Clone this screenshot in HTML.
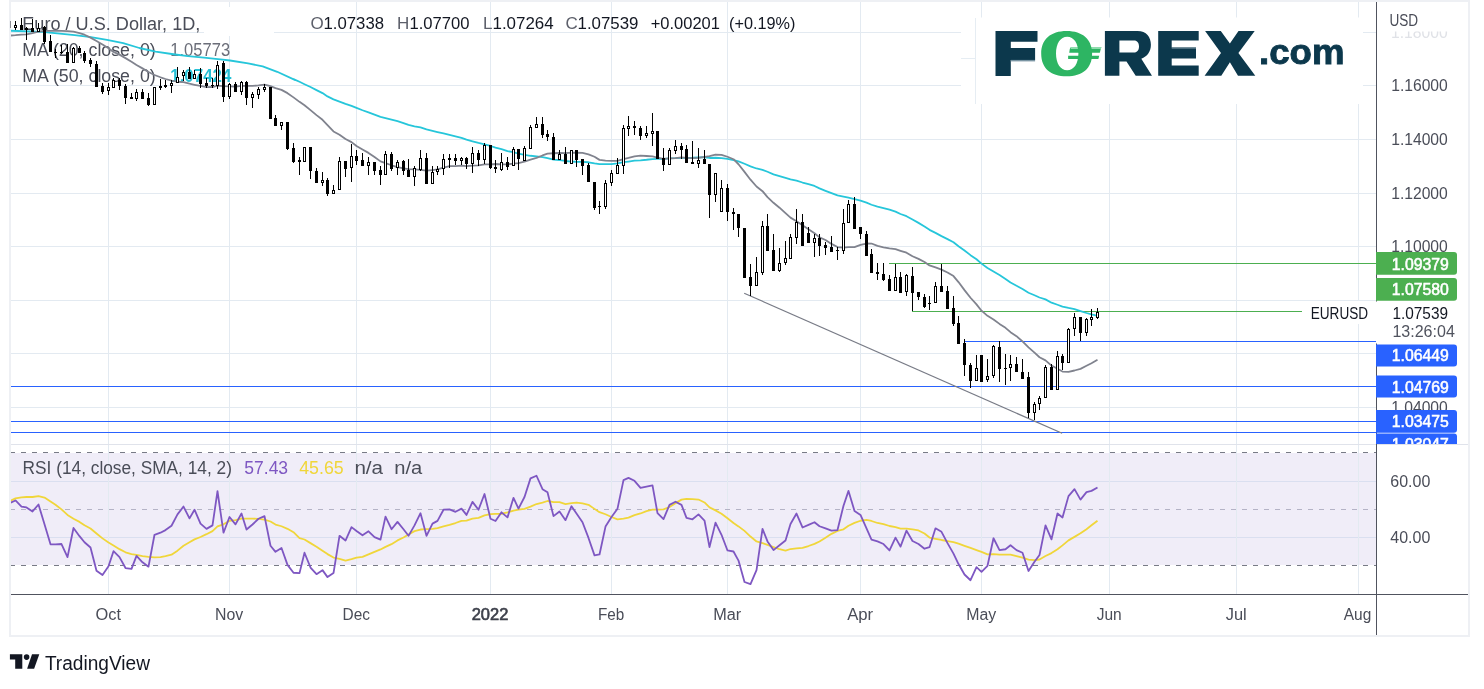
<!DOCTYPE html>
<html><head><meta charset="utf-8"><style>
html,body{margin:0;padding:0;background:#fff;}
svg{display:block;font-family:"Liberation Sans", sans-serif;will-change:transform;}
</style></head><body>
<svg width="1484" height="689" viewBox="0 0 1484 689">
<rect x="0" y="0" width="1484" height="689" fill="#ffffff"/>
<rect x="9" y="0" width="1461" height="2" fill="#eef0f4"/>
<rect x="9" y="635" width="1461" height="2" fill="#eef0f4"/>
<rect x="9" y="0" width="2" height="637" fill="#eef0f4"/>
<rect x="1468" y="0" width="2" height="637" fill="#eef0f4"/>
<rect x="11" y="453" width="1365" height="112" fill="#f0edf8"/>
<g shape-rendering="crispEdges">
<rect x="11" y="32" width="1365" height="1" fill="#e3eaf1"/>
<rect x="11" y="85" width="1365" height="1" fill="#e3eaf1"/>
<rect x="11" y="139" width="1365" height="1" fill="#e3eaf1"/>
<rect x="11" y="193" width="1365" height="1" fill="#e3eaf1"/>
<rect x="11" y="246" width="1365" height="1" fill="#e3eaf1"/>
<rect x="11" y="300" width="1365" height="1" fill="#e3eaf1"/>
<rect x="11" y="353" width="1365" height="1" fill="#e3eaf1"/>
<rect x="11" y="407" width="1365" height="1" fill="#e3eaf1"/>
<rect x="11" y="481" width="1365" height="1" fill="#dadff0"/>
<rect x="11" y="537" width="1365" height="1" fill="#dadff0"/>
<rect x="108" y="2" width="1" height="442" fill="#e3eaf1"/>
<rect x="108" y="445" width="1" height="149" fill="#e3eaf1"/>
<rect x="229" y="2" width="1" height="442" fill="#e3eaf1"/>
<rect x="229" y="445" width="1" height="149" fill="#e3eaf1"/>
<rect x="356" y="2" width="1" height="442" fill="#e3eaf1"/>
<rect x="356" y="445" width="1" height="149" fill="#e3eaf1"/>
<rect x="490" y="2" width="1" height="442" fill="#e3eaf1"/>
<rect x="490" y="445" width="1" height="149" fill="#e3eaf1"/>
<rect x="611" y="2" width="1" height="442" fill="#e3eaf1"/>
<rect x="611" y="445" width="1" height="149" fill="#e3eaf1"/>
<rect x="727" y="2" width="1" height="442" fill="#e3eaf1"/>
<rect x="727" y="445" width="1" height="149" fill="#e3eaf1"/>
<rect x="860" y="2" width="1" height="442" fill="#e3eaf1"/>
<rect x="860" y="445" width="1" height="149" fill="#e3eaf1"/>
<rect x="981" y="2" width="1" height="442" fill="#e3eaf1"/>
<rect x="981" y="445" width="1" height="149" fill="#e3eaf1"/>
<rect x="1109" y="2" width="1" height="442" fill="#e3eaf1"/>
<rect x="1109" y="445" width="1" height="149" fill="#e3eaf1"/>
<rect x="1236" y="2" width="1" height="442" fill="#e3eaf1"/>
<rect x="1236" y="445" width="1" height="149" fill="#e3eaf1"/>
<rect x="1358" y="2" width="1" height="442" fill="#e3eaf1"/>
<rect x="1358" y="445" width="1" height="149" fill="#e3eaf1"/>
</g>
<rect x="11" y="444" width="1457" height="1" fill="#e0e3eb"/>
<rect x="204" y="7" width="70" height="29" fill="#ffffff"/>
<rect x="961" y="17.5" width="402" height="86.5" fill="#ffffff"/>
<rect x="975" y="18" width="1" height="86" fill="#e6edf3"/>
<rect x="961" y="58" width="15" height="1" fill="#e6edf3"/>
<path d="M995.5,31.1 H1037.5 V41.8 H1010.8 V47.9 H1035.1 V59.9 H1010.8 V75.9 H995.5 Z" fill="#0c384c"/>
<rect x="1010.8" y="59.9" width="24.3" height="1.5" fill="#7a95a3"/>
<path d="M1070.9,47.1 H1101.3 L1099.8,52.7 H1069.2 L1069.8,49 Z" fill="#2db563"/>
<path d="M1070.9,47.1 H1101.3 L1100.9,48.9 H1070.9 Z" fill="#8fdcad"/>
<path d="M1068.1,55.8 H1099.2 L1098.4,58.9 H1068.1 Z" fill="#2db563"/>
<path fill-rule="evenodd" d="M1066.65,31.00 C1082.68,31.00 1092.10,39.38 1092.10,53.65 C1092.10,67.92 1082.68,76.30 1066.65,76.30 C1050.62,76.30 1041.20,67.92 1041.20,53.65 C1041.20,39.38 1050.62,31.00 1066.65,31.00 Z M1067.20,36.65 C1073.92,36.65 1078.40,43.35 1078.40,53.40 C1078.40,63.45 1073.92,70.15 1067.20,70.15 C1060.48,70.15 1056.00,63.45 1056.00,53.40 C1056.00,43.35 1060.48,36.65 1067.20,36.65 Z" fill="#2db563"/>
<path fill-rule="evenodd" d="M1104.9,30.9 H1137.5 C1146.5,30.9 1150.9,37 1150.9,44.7 C1150.9,51.5 1147.3,56.4 1141.3,58.8 L1152,75.7 H1135.7 L1126.5,61.6 H1119.4 V75.7 H1104.9 Z M1119.4,40.6 H1134 C1137.3,40.6 1139,43 1139,46.5 C1139,50.1 1137.3,52.5 1134,52.5 H1119.4 Z" fill="#0c384c"/>
<path d="M1158.2,30.9 H1198.7 V40.6 H1171.7 V47.6 H1196 V58.4 H1171.7 V65.4 H1198.7 V75.7 H1158.2 Z" fill="#0c384c"/>
<rect x="1171.7" y="47.6" width="24.3" height="1.2" fill="#5b7b8b"/>
<path d="M1205.1,30.9 H1220.8 L1229.9,43.5 L1238.5,30.9 H1254.7 L1238.4,53 L1255.3,75.7 H1238 L1229.9,62.3 L1221.3,75.7 H1204.6 L1221,53 Z" fill="#0c384c"/>
<text x="1259" y="64.4" font-size="34.5" font-weight="bold" fill="#0c384c" stroke="#0c384c" stroke-width="0.9" textLength="85.5" lengthAdjust="spacingAndGlyphs">.com</text>
<text x="22.3" y="29.6" font-size="17.5" fill="#4a4d58" textLength="178" lengthAdjust="spacingAndGlyphs">Euro / U.S. Dollar, 1D,</text>
<text x="310.5" y="29.4" font-size="17" fill="#5d606b">O</text>
<text x="323.5" y="29.4" font-size="17" fill="#131722" textLength="60.5" lengthAdjust="spacingAndGlyphs">1.07338</text>
<text x="396.9" y="29.4" font-size="17" fill="#5d606b">H</text>
<text x="409.5" y="29.4" font-size="17" fill="#131722" textLength="60" lengthAdjust="spacingAndGlyphs">1.07700</text>
<text x="483" y="29.4" font-size="17" fill="#5d606b">L</text>
<text x="492.5" y="29.4" font-size="17" fill="#131722" textLength="61.2" lengthAdjust="spacingAndGlyphs">1.07264</text>
<text x="565.4" y="29.4" font-size="17" fill="#5d606b">C</text>
<text x="577.5" y="29.4" font-size="17" fill="#131722" textLength="61" lengthAdjust="spacingAndGlyphs">1.07539</text>
<text x="650.7" y="29.4" font-size="17" fill="#131722" textLength="69.2" lengthAdjust="spacingAndGlyphs">+0.00201</text>
<text x="729" y="29.4" font-size="17" fill="#131722" textLength="66.3" lengthAdjust="spacingAndGlyphs">(+0.19%)</text>
<text x="22.3" y="55.7" font-size="17.5" fill="#4a4d58" textLength="133.4" lengthAdjust="spacingAndGlyphs">MA (20, close, 0)</text>
<text x="170.3" y="55.7" font-size="17.5" fill="#6b6e79" textLength="59.8" lengthAdjust="spacingAndGlyphs">1.05773</text>
<text x="22.3" y="81.7" font-size="17.5" fill="#4a4d58" textLength="133.4" lengthAdjust="spacingAndGlyphs">MA (50, close, 0)</text>
<text x="170.3" y="81.7" font-size="17.5" fill="#26c0d6" textLength="61" lengthAdjust="spacingAndGlyphs" font-weight="bold">1.07424</text>
<g shape-rendering="crispEdges">
<rect x="889" y="263" width="487" height="1" fill="#4caf50"/>
<rect x="912" y="311" width="390" height="1" fill="#4caf50"/>
<rect x="964" y="341" width="412" height="1" fill="#2962ff"/>
<rect x="11" y="386" width="1365" height="1" fill="#2962ff"/>
<rect x="11" y="421" width="1365" height="1" fill="#2962ff"/>
<rect x="11" y="432" width="1365" height="1" fill="#2962ff"/>
</g>
<line x1="744.2" y1="293.2" x2="1062.1" y2="433.3" stroke="#787b86" stroke-width="1.2"/>
<defs><clipPath id="cp"><rect x="11" y="2" width="1365" height="442"/></clipPath><clipPath id="cr"><rect x="11" y="445" width="1365" height="149"/></clipPath></defs>
<g clip-path="url(#cp)">
<polyline points="10.00,30.70 42.30,31.80 74.70,35.10 90.90,37.20 107.00,39.90 123.20,43.20 139.40,48.00 155.60,51.70 171.70,54.00 187.90,56.10 204.00,57.70 220.30,59.40 230.00,60.50 248.10,63.40 262.70,66.30 277.20,71.80 295.30,80.10 293.50,79.08 299.50,81.76 304.50,84.20 310.50,87.03 316.50,90.10 322.50,93.08 327.50,96.40 333.50,99.37 339.50,101.54 345.50,103.86 351.50,105.92 356.50,107.88 362.50,110.24 368.50,112.42 374.50,114.61 380.50,116.85 385.50,118.20 391.50,119.73 397.50,121.22 403.50,123.04 408.50,124.87 414.50,126.27 420.50,127.47 426.50,129.29 432.50,130.76 437.50,132.05 443.50,133.49 449.50,134.94 455.50,136.43 461.50,137.92 466.50,139.66 472.50,141.28 478.50,142.88 484.50,144.30 490.50,145.98 495.50,147.64 501.50,149.15 507.50,151.19 513.50,152.23 518.50,153.74 524.50,154.87 530.50,155.77 536.50,156.30 542.50,157.12 547.50,158.08 553.50,159.53 559.50,160.23 565.50,160.98 571.50,161.55 576.50,161.77 582.50,161.85 588.50,162.26 594.50,163.48 599.50,164.20 605.50,164.20 611.50,164.04 617.50,163.46 623.50,162.21 628.50,161.52 634.50,160.71 640.50,160.30 646.50,159.75 652.50,159.04 657.50,158.97 663.50,158.86 669.50,158.35 675.50,158.19 681.50,157.81 686.50,157.83 692.50,157.69 698.50,157.33 704.50,157.26 709.50,157.98 715.50,157.77 721.50,158.10 727.50,158.95 733.50,160.06 738.50,161.43 744.50,163.76 750.50,166.31 756.50,168.48 762.50,169.94 767.50,171.77 773.50,174.30 779.50,176.20 785.50,177.98 790.50,179.47 796.50,180.57 802.50,182.51 808.50,184.18 814.50,185.98 819.50,188.35 825.50,190.82 831.50,193.15 837.50,195.44 843.50,196.70 848.50,197.70 854.50,199.01 860.50,200.68 866.50,202.61 871.50,204.75 877.50,206.59 883.50,208.02 889.50,209.69 895.50,211.57 900.50,213.97 906.50,216.18 912.50,219.47 918.50,222.90 924.50,226.47 929.50,229.85 935.50,232.90 941.50,236.13 947.50,239.12 953.50,242.30 958.50,246.17 964.50,250.55 970.50,255.16 976.50,259.28 981.50,263.64 987.50,267.96 993.50,271.59 999.50,275.09 1005.50,279.01 1010.50,282.53 1016.50,285.74 1022.50,289.02 1028.50,292.71 1034.50,295.25 1039.50,297.50 1045.50,299.39 1051.50,302.67 1057.50,304.77 1062.50,306.62 1068.50,307.95 1074.50,309.13 1080.50,311.05 1086.50,313.00 1091.50,314.43 1097.50,315.82" fill="none" stroke="#26c6da" stroke-width="1.8" stroke-linejoin="round"/>
<polyline points="9.50,35.60 15.50,35.20 21.50,34.60 26.50,34.40 32.50,33.20 38.50,31.70 44.50,30.90 50.50,30.80 55.50,30.70 61.50,30.90 67.50,31.10 73.50,31.60 79.50,33.10 84.50,34.70 90.50,37.60 96.50,41.00 102.50,44.50 108.50,48.30 113.50,51.90 119.50,54.63 125.50,58.14 131.50,61.80 136.50,64.94 142.50,68.39 148.50,72.05 154.50,74.98 160.50,77.28 165.50,79.00 171.50,80.54 177.50,81.73 183.50,82.20 189.50,83.74 194.50,84.78 200.50,85.90 206.50,87.05 212.50,87.02 217.50,85.65 223.50,86.14 229.50,86.36 235.50,86.63 241.50,85.85 246.50,85.80 252.50,85.89 258.50,85.42 264.50,84.53 270.50,86.14 275.50,88.07 281.50,89.84 287.50,93.14 293.50,97.38 299.50,101.86 304.50,105.25 310.50,110.13 316.50,115.10 322.50,119.81 327.50,125.20 333.50,131.48 339.50,134.69 345.50,138.92 351.50,142.13 356.50,146.07 362.50,149.50 368.50,152.90 374.50,156.97 380.50,161.37 385.50,163.15 391.50,165.27 397.50,167.23 403.50,168.31 408.50,169.09 414.50,169.42 420.50,169.97 426.50,170.59 432.50,170.03 437.50,169.48 443.50,167.72 449.50,166.20 455.50,166.22 461.50,165.68 466.50,166.07 472.50,165.69 478.50,165.35 484.50,164.47 490.50,164.31 495.50,164.02 501.50,164.41 507.50,164.30 513.50,163.67 518.50,163.09 524.50,161.63 530.50,159.59 536.50,157.89 542.50,155.47 547.50,153.71 553.50,153.25 559.50,152.98 565.50,153.19 571.50,152.65 576.50,152.75 582.50,152.86 588.50,154.32 594.50,156.75 599.50,159.88 605.50,160.66 611.50,160.83 617.50,160.97 623.50,159.04 628.50,157.89 634.50,156.35 640.50,155.72 646.50,156.01 652.50,156.34 657.50,157.51 663.50,158.92 669.50,158.41 675.50,158.05 681.50,157.33 686.50,157.94 692.50,158.12 698.50,157.81 704.50,156.90 709.50,156.23 715.50,154.53 721.50,154.78 727.50,156.75 733.50,159.23 738.50,164.25 744.50,171.82 750.50,179.68 756.50,186.52 762.50,191.17 767.50,197.19 773.50,202.80 779.50,207.68 785.50,213.10 790.50,217.61 796.50,221.21 802.50,225.36 808.50,229.32 814.50,233.26 819.50,237.33 825.50,239.98 831.50,243.92 837.50,247.07 843.50,247.62 848.50,247.08 854.50,247.12 860.50,244.97 866.50,243.51 871.50,243.53 877.50,245.94 883.50,247.37 889.50,248.36 895.50,249.08 900.50,250.80 906.50,252.73 912.50,256.27 918.50,258.86 924.50,262.08 929.50,265.38 935.50,267.38 941.50,269.60 947.50,272.44 953.50,276.06 958.50,282.08 964.50,290.16 970.50,297.73 976.50,304.43 981.50,310.69 987.50,315.83 993.50,319.41 999.50,323.89 1005.50,327.83 1010.50,332.19 1016.50,336.18 1022.50,341.34 1028.50,347.36 1034.50,352.70 1039.50,357.25 1045.50,360.36 1051.50,365.58 1057.50,368.80 1062.50,371.53 1068.50,371.81 1074.50,370.50 1080.50,368.87 1086.50,365.80 1091.50,363.25 1097.50,359.78" fill="none" stroke="#80838e" stroke-width="1.8" stroke-linejoin="round"/>
<g shape-rendering="crispEdges">
<rect x="9" y="22" width="1" height="2" fill="#000"/>
<rect x="8" y="24" width="3" height="4" fill="#000"/>
<rect x="15" y="21" width="1" height="4" fill="#000"/>
<rect x="15" y="28" width="1" height="2" fill="#000"/>
<rect x="14" y="25" width="3" height="3" fill="#000"/>
<rect x="15" y="26" width="1" height="1" fill="#fff"/>
<rect x="21" y="18" width="1" height="7" fill="#000"/>
<rect x="20" y="25" width="3" height="5" fill="#000"/>
<rect x="26" y="27" width="1" height="1" fill="#000"/>
<rect x="26" y="30" width="1" height="10" fill="#000"/>
<rect x="25" y="28" width="3" height="2" fill="#000"/>
<rect x="32" y="19" width="1" height="9" fill="#000"/>
<rect x="31" y="28" width="3" height="4" fill="#000"/>
<rect x="38" y="23" width="1" height="5" fill="#000"/>
<rect x="37" y="28" width="3" height="4" fill="#000"/>
<rect x="38" y="29" width="1" height="2" fill="#fff"/>
<rect x="44" y="26" width="1" height="1" fill="#000"/>
<rect x="44" y="42" width="1" height="2" fill="#000"/>
<rect x="43" y="27" width="3" height="15" fill="#000"/>
<rect x="50" y="35" width="1" height="6" fill="#000"/>
<rect x="49" y="41" width="3" height="11" fill="#000"/>
<rect x="55" y="49" width="1" height="3" fill="#000"/>
<rect x="55" y="53" width="1" height="5" fill="#000"/>
<rect x="54" y="52" width="3" height="1" fill="#000"/>
<rect x="61" y="45" width="1" height="7" fill="#000"/>
<rect x="61" y="53" width="1" height="1" fill="#000"/>
<rect x="60" y="52" width="3" height="1" fill="#000"/>
<rect x="67" y="44" width="1" height="8" fill="#000"/>
<rect x="66" y="52" width="3" height="11" fill="#000"/>
<rect x="73" y="47" width="1" height="1" fill="#000"/>
<rect x="72" y="48" width="3" height="15" fill="#000"/>
<rect x="73" y="49" width="1" height="13" fill="#fff"/>
<rect x="79" y="46" width="1" height="2" fill="#000"/>
<rect x="78" y="48" width="3" height="5" fill="#000"/>
<rect x="84" y="51" width="1" height="2" fill="#000"/>
<rect x="84" y="61" width="1" height="2" fill="#000"/>
<rect x="83" y="53" width="3" height="8" fill="#000"/>
<rect x="90" y="58" width="1" height="2" fill="#000"/>
<rect x="90" y="64" width="1" height="3" fill="#000"/>
<rect x="89" y="60" width="3" height="4" fill="#000"/>
<rect x="96" y="61" width="1" height="3" fill="#000"/>
<rect x="95" y="64" width="3" height="23" fill="#000"/>
<rect x="102" y="83" width="1" height="3" fill="#000"/>
<rect x="102" y="92" width="1" height="2" fill="#000"/>
<rect x="101" y="86" width="3" height="6" fill="#000"/>
<rect x="108" y="83" width="1" height="4" fill="#000"/>
<rect x="108" y="91" width="1" height="4" fill="#000"/>
<rect x="107" y="87" width="3" height="4" fill="#000"/>
<rect x="108" y="88" width="1" height="2" fill="#fff"/>
<rect x="113" y="78" width="1" height="2" fill="#000"/>
<rect x="112" y="80" width="3" height="8" fill="#000"/>
<rect x="113" y="81" width="1" height="6" fill="#fff"/>
<rect x="119" y="78" width="1" height="2" fill="#000"/>
<rect x="119" y="86" width="1" height="4" fill="#000"/>
<rect x="118" y="80" width="3" height="6" fill="#000"/>
<rect x="125" y="84" width="1" height="2" fill="#000"/>
<rect x="125" y="98" width="1" height="6" fill="#000"/>
<rect x="124" y="86" width="3" height="12" fill="#000"/>
<rect x="131" y="93" width="1" height="4" fill="#000"/>
<rect x="130" y="97" width="3" height="2" fill="#000"/>
<rect x="136" y="89" width="1" height="3" fill="#000"/>
<rect x="136" y="99" width="1" height="2" fill="#000"/>
<rect x="135" y="92" width="3" height="7" fill="#000"/>
<rect x="136" y="93" width="1" height="5" fill="#fff"/>
<rect x="142" y="89" width="1" height="3" fill="#000"/>
<rect x="141" y="92" width="3" height="7" fill="#000"/>
<rect x="148" y="93" width="1" height="5" fill="#000"/>
<rect x="148" y="105" width="1" height="1" fill="#000"/>
<rect x="147" y="98" width="3" height="7" fill="#000"/>
<rect x="153" y="87" width="3" height="18" fill="#000"/>
<rect x="154" y="88" width="1" height="16" fill="#fff"/>
<rect x="160" y="79" width="1" height="7" fill="#000"/>
<rect x="160" y="88" width="1" height="2" fill="#000"/>
<rect x="159" y="86" width="3" height="2" fill="#000"/>
<rect x="165" y="80" width="1" height="5" fill="#000"/>
<rect x="165" y="87" width="1" height="1" fill="#000"/>
<rect x="164" y="85" width="3" height="2" fill="#000"/>
<rect x="171" y="80" width="1" height="3" fill="#000"/>
<rect x="171" y="86" width="1" height="7" fill="#000"/>
<rect x="170" y="83" width="3" height="3" fill="#000"/>
<rect x="171" y="84" width="1" height="1" fill="#fff"/>
<rect x="177" y="67" width="1" height="10" fill="#000"/>
<rect x="176" y="77" width="3" height="6" fill="#000"/>
<rect x="177" y="78" width="1" height="4" fill="#fff"/>
<rect x="183" y="70" width="1" height="2" fill="#000"/>
<rect x="183" y="76" width="1" height="5" fill="#000"/>
<rect x="182" y="72" width="3" height="4" fill="#000"/>
<rect x="183" y="73" width="1" height="2" fill="#fff"/>
<rect x="189" y="67" width="1" height="5" fill="#000"/>
<rect x="188" y="72" width="3" height="7" fill="#000"/>
<rect x="194" y="70" width="1" height="4" fill="#000"/>
<rect x="193" y="74" width="3" height="5" fill="#000"/>
<rect x="194" y="75" width="1" height="3" fill="#fff"/>
<rect x="200" y="68" width="1" height="6" fill="#000"/>
<rect x="200" y="84" width="1" height="4" fill="#000"/>
<rect x="199" y="74" width="3" height="10" fill="#000"/>
<rect x="206" y="78" width="1" height="5" fill="#000"/>
<rect x="206" y="86" width="1" height="2" fill="#000"/>
<rect x="205" y="83" width="3" height="3" fill="#000"/>
<rect x="212" y="78" width="1" height="7" fill="#000"/>
<rect x="212" y="86" width="1" height="2" fill="#000"/>
<rect x="211" y="85" width="3" height="1" fill="#000"/>
<rect x="217" y="61" width="1" height="4" fill="#000"/>
<rect x="217" y="86" width="1" height="3" fill="#000"/>
<rect x="216" y="65" width="3" height="21" fill="#000"/>
<rect x="217" y="66" width="1" height="19" fill="#fff"/>
<rect x="223" y="61" width="1" height="2" fill="#000"/>
<rect x="223" y="97" width="1" height="5" fill="#000"/>
<rect x="222" y="63" width="3" height="34" fill="#000"/>
<rect x="229" y="83" width="1" height="1" fill="#000"/>
<rect x="229" y="97" width="1" height="2" fill="#000"/>
<rect x="228" y="84" width="3" height="13" fill="#000"/>
<rect x="229" y="85" width="1" height="11" fill="#fff"/>
<rect x="235" y="82" width="1" height="2" fill="#000"/>
<rect x="234" y="84" width="3" height="8" fill="#000"/>
<rect x="241" y="81" width="1" height="1" fill="#000"/>
<rect x="241" y="92" width="1" height="3" fill="#000"/>
<rect x="240" y="82" width="3" height="10" fill="#000"/>
<rect x="241" y="83" width="1" height="8" fill="#fff"/>
<rect x="246" y="81" width="1" height="1" fill="#000"/>
<rect x="246" y="98" width="1" height="7" fill="#000"/>
<rect x="245" y="82" width="3" height="16" fill="#000"/>
<rect x="252" y="92" width="1" height="2" fill="#000"/>
<rect x="252" y="98" width="1" height="10" fill="#000"/>
<rect x="251" y="94" width="3" height="4" fill="#000"/>
<rect x="252" y="95" width="1" height="2" fill="#fff"/>
<rect x="258" y="87" width="1" height="2" fill="#000"/>
<rect x="258" y="95" width="1" height="4" fill="#000"/>
<rect x="257" y="89" width="3" height="6" fill="#000"/>
<rect x="258" y="90" width="1" height="4" fill="#fff"/>
<rect x="264" y="84" width="1" height="3" fill="#000"/>
<rect x="264" y="90" width="1" height="2" fill="#000"/>
<rect x="263" y="87" width="3" height="3" fill="#000"/>
<rect x="264" y="88" width="1" height="1" fill="#fff"/>
<rect x="269" y="87" width="3" height="32" fill="#000"/>
<rect x="275" y="115" width="1" height="3" fill="#000"/>
<rect x="274" y="118" width="3" height="8" fill="#000"/>
<rect x="281" y="126" width="1" height="4" fill="#000"/>
<rect x="280" y="122" width="3" height="4" fill="#000"/>
<rect x="281" y="123" width="1" height="2" fill="#fff"/>
<rect x="287" y="149" width="1" height="1" fill="#000"/>
<rect x="286" y="122" width="3" height="27" fill="#000"/>
<rect x="293" y="143" width="1" height="5" fill="#000"/>
<rect x="293" y="162" width="1" height="1" fill="#000"/>
<rect x="292" y="148" width="3" height="14" fill="#000"/>
<rect x="299" y="157" width="1" height="3" fill="#000"/>
<rect x="299" y="162" width="1" height="13" fill="#000"/>
<rect x="298" y="160" width="3" height="2" fill="#000"/>
<rect x="303" y="147" width="3" height="15" fill="#000"/>
<rect x="304" y="148" width="1" height="13" fill="#fff"/>
<rect x="310" y="171" width="1" height="8" fill="#000"/>
<rect x="309" y="147" width="3" height="24" fill="#000"/>
<rect x="316" y="168" width="1" height="3" fill="#000"/>
<rect x="315" y="171" width="3" height="12" fill="#000"/>
<rect x="322" y="172" width="1" height="8" fill="#000"/>
<rect x="322" y="183" width="1" height="3" fill="#000"/>
<rect x="321" y="180" width="3" height="3" fill="#000"/>
<rect x="322" y="181" width="1" height="1" fill="#fff"/>
<rect x="327" y="178" width="1" height="2" fill="#000"/>
<rect x="327" y="194" width="1" height="2" fill="#000"/>
<rect x="326" y="180" width="3" height="14" fill="#000"/>
<rect x="333" y="185" width="1" height="5" fill="#000"/>
<rect x="332" y="190" width="3" height="4" fill="#000"/>
<rect x="333" y="191" width="1" height="2" fill="#fff"/>
<rect x="339" y="157" width="1" height="4" fill="#000"/>
<rect x="338" y="161" width="3" height="29" fill="#000"/>
<rect x="339" y="162" width="1" height="27" fill="#fff"/>
<rect x="345" y="169" width="1" height="8" fill="#000"/>
<rect x="344" y="161" width="3" height="8" fill="#000"/>
<rect x="351" y="144" width="1" height="12" fill="#000"/>
<rect x="351" y="168" width="1" height="14" fill="#000"/>
<rect x="350" y="156" width="3" height="12" fill="#000"/>
<rect x="351" y="157" width="1" height="10" fill="#fff"/>
<rect x="356" y="150" width="1" height="6" fill="#000"/>
<rect x="356" y="161" width="1" height="4" fill="#000"/>
<rect x="355" y="156" width="3" height="5" fill="#000"/>
<rect x="362" y="153" width="1" height="7" fill="#000"/>
<rect x="361" y="160" width="3" height="6" fill="#000"/>
<rect x="368" y="157" width="1" height="5" fill="#000"/>
<rect x="368" y="166" width="1" height="9" fill="#000"/>
<rect x="367" y="162" width="3" height="4" fill="#000"/>
<rect x="368" y="163" width="1" height="2" fill="#fff"/>
<rect x="374" y="171" width="1" height="4" fill="#000"/>
<rect x="373" y="162" width="3" height="9" fill="#000"/>
<rect x="380" y="166" width="1" height="4" fill="#000"/>
<rect x="380" y="175" width="1" height="10" fill="#000"/>
<rect x="379" y="170" width="3" height="5" fill="#000"/>
<rect x="385" y="151" width="1" height="3" fill="#000"/>
<rect x="384" y="154" width="3" height="21" fill="#000"/>
<rect x="385" y="155" width="1" height="19" fill="#fff"/>
<rect x="391" y="152" width="1" height="2" fill="#000"/>
<rect x="391" y="169" width="1" height="2" fill="#000"/>
<rect x="390" y="154" width="3" height="15" fill="#000"/>
<rect x="397" y="160" width="1" height="2" fill="#000"/>
<rect x="397" y="168" width="1" height="7" fill="#000"/>
<rect x="396" y="162" width="3" height="6" fill="#000"/>
<rect x="397" y="163" width="1" height="4" fill="#fff"/>
<rect x="403" y="160" width="1" height="1" fill="#000"/>
<rect x="403" y="171" width="1" height="4" fill="#000"/>
<rect x="402" y="161" width="3" height="10" fill="#000"/>
<rect x="408" y="159" width="1" height="11" fill="#000"/>
<rect x="407" y="170" width="3" height="7" fill="#000"/>
<rect x="414" y="166" width="1" height="2" fill="#000"/>
<rect x="414" y="177" width="1" height="9" fill="#000"/>
<rect x="413" y="168" width="3" height="9" fill="#000"/>
<rect x="414" y="169" width="1" height="7" fill="#fff"/>
<rect x="420" y="150" width="1" height="8" fill="#000"/>
<rect x="420" y="170" width="1" height="1" fill="#000"/>
<rect x="419" y="158" width="3" height="12" fill="#000"/>
<rect x="420" y="159" width="1" height="10" fill="#fff"/>
<rect x="426" y="153" width="1" height="5" fill="#000"/>
<rect x="425" y="158" width="3" height="26" fill="#000"/>
<rect x="432" y="166" width="1" height="6" fill="#000"/>
<rect x="431" y="172" width="3" height="12" fill="#000"/>
<rect x="432" y="173" width="1" height="10" fill="#fff"/>
<rect x="437" y="166" width="1" height="3" fill="#000"/>
<rect x="437" y="172" width="1" height="3" fill="#000"/>
<rect x="436" y="169" width="3" height="3" fill="#000"/>
<rect x="437" y="170" width="1" height="1" fill="#fff"/>
<rect x="443" y="154" width="1" height="5" fill="#000"/>
<rect x="443" y="169" width="1" height="6" fill="#000"/>
<rect x="442" y="159" width="3" height="10" fill="#000"/>
<rect x="443" y="160" width="1" height="8" fill="#fff"/>
<rect x="449" y="154" width="1" height="4" fill="#000"/>
<rect x="449" y="160" width="1" height="8" fill="#000"/>
<rect x="448" y="158" width="3" height="2" fill="#000"/>
<rect x="455" y="154" width="1" height="4" fill="#000"/>
<rect x="455" y="161" width="1" height="4" fill="#000"/>
<rect x="454" y="158" width="3" height="3" fill="#000"/>
<rect x="461" y="157" width="1" height="1" fill="#000"/>
<rect x="461" y="161" width="1" height="4" fill="#000"/>
<rect x="460" y="158" width="3" height="3" fill="#000"/>
<rect x="461" y="159" width="1" height="1" fill="#fff"/>
<rect x="466" y="157" width="1" height="1" fill="#000"/>
<rect x="466" y="164" width="1" height="5" fill="#000"/>
<rect x="465" y="158" width="3" height="6" fill="#000"/>
<rect x="472" y="147" width="1" height="6" fill="#000"/>
<rect x="472" y="164" width="1" height="9" fill="#000"/>
<rect x="471" y="153" width="3" height="11" fill="#000"/>
<rect x="472" y="154" width="1" height="9" fill="#fff"/>
<rect x="478" y="150" width="1" height="3" fill="#000"/>
<rect x="478" y="160" width="1" height="6" fill="#000"/>
<rect x="477" y="153" width="3" height="7" fill="#000"/>
<rect x="484" y="143" width="1" height="2" fill="#000"/>
<rect x="484" y="160" width="1" height="4" fill="#000"/>
<rect x="483" y="145" width="3" height="15" fill="#000"/>
<rect x="484" y="146" width="1" height="13" fill="#fff"/>
<rect x="490" y="168" width="1" height="1" fill="#000"/>
<rect x="489" y="145" width="3" height="23" fill="#000"/>
<rect x="495" y="160" width="1" height="7" fill="#000"/>
<rect x="495" y="169" width="1" height="4" fill="#000"/>
<rect x="494" y="167" width="3" height="2" fill="#000"/>
<rect x="501" y="153" width="1" height="9" fill="#000"/>
<rect x="501" y="170" width="1" height="1" fill="#000"/>
<rect x="500" y="162" width="3" height="8" fill="#000"/>
<rect x="501" y="163" width="1" height="6" fill="#fff"/>
<rect x="507" y="157" width="1" height="5" fill="#000"/>
<rect x="507" y="167" width="1" height="3" fill="#000"/>
<rect x="506" y="162" width="3" height="5" fill="#000"/>
<rect x="513" y="147" width="1" height="2" fill="#000"/>
<rect x="512" y="149" width="3" height="17" fill="#000"/>
<rect x="513" y="150" width="1" height="15" fill="#fff"/>
<rect x="518" y="159" width="1" height="11" fill="#000"/>
<rect x="517" y="149" width="3" height="10" fill="#000"/>
<rect x="524" y="146" width="1" height="2" fill="#000"/>
<rect x="523" y="148" width="3" height="13" fill="#000"/>
<rect x="524" y="149" width="1" height="11" fill="#fff"/>
<rect x="530" y="125" width="1" height="2" fill="#000"/>
<rect x="529" y="127" width="3" height="22" fill="#000"/>
<rect x="530" y="128" width="1" height="20" fill="#fff"/>
<rect x="536" y="117" width="1" height="7" fill="#000"/>
<rect x="535" y="124" width="3" height="4" fill="#000"/>
<rect x="536" y="125" width="1" height="2" fill="#fff"/>
<rect x="542" y="117" width="1" height="7" fill="#000"/>
<rect x="542" y="135" width="1" height="3" fill="#000"/>
<rect x="541" y="124" width="3" height="11" fill="#000"/>
<rect x="547" y="130" width="1" height="4" fill="#000"/>
<rect x="547" y="137" width="1" height="4" fill="#000"/>
<rect x="546" y="134" width="3" height="3" fill="#000"/>
<rect x="553" y="133" width="1" height="4" fill="#000"/>
<rect x="552" y="137" width="3" height="23" fill="#000"/>
<rect x="559" y="150" width="1" height="4" fill="#000"/>
<rect x="558" y="154" width="3" height="6" fill="#000"/>
<rect x="559" y="155" width="1" height="4" fill="#fff"/>
<rect x="565" y="147" width="1" height="7" fill="#000"/>
<rect x="564" y="154" width="3" height="10" fill="#000"/>
<rect x="570" y="150" width="3" height="14" fill="#000"/>
<rect x="571" y="151" width="1" height="12" fill="#fff"/>
<rect x="576" y="160" width="1" height="7" fill="#000"/>
<rect x="575" y="150" width="3" height="10" fill="#000"/>
<rect x="582" y="166" width="1" height="9" fill="#000"/>
<rect x="581" y="159" width="3" height="7" fill="#000"/>
<rect x="588" y="163" width="1" height="2" fill="#000"/>
<rect x="587" y="165" width="3" height="17" fill="#000"/>
<rect x="594" y="208" width="1" height="2" fill="#000"/>
<rect x="593" y="182" width="3" height="26" fill="#000"/>
<rect x="599" y="201" width="1" height="5" fill="#000"/>
<rect x="599" y="207" width="1" height="7" fill="#000"/>
<rect x="598" y="206" width="3" height="1" fill="#000"/>
<rect x="605" y="180" width="1" height="3" fill="#000"/>
<rect x="605" y="207" width="1" height="2" fill="#000"/>
<rect x="604" y="183" width="3" height="24" fill="#000"/>
<rect x="605" y="184" width="1" height="22" fill="#fff"/>
<rect x="611" y="170" width="1" height="3" fill="#000"/>
<rect x="611" y="183" width="1" height="3" fill="#000"/>
<rect x="610" y="173" width="3" height="10" fill="#000"/>
<rect x="611" y="174" width="1" height="8" fill="#fff"/>
<rect x="617" y="158" width="1" height="7" fill="#000"/>
<rect x="616" y="165" width="3" height="9" fill="#000"/>
<rect x="617" y="166" width="1" height="7" fill="#fff"/>
<rect x="623" y="125" width="1" height="3" fill="#000"/>
<rect x="623" y="166" width="1" height="8" fill="#000"/>
<rect x="622" y="128" width="3" height="38" fill="#000"/>
<rect x="623" y="129" width="1" height="36" fill="#fff"/>
<rect x="628" y="116" width="1" height="10" fill="#000"/>
<rect x="628" y="129" width="1" height="7" fill="#000"/>
<rect x="627" y="126" width="3" height="3" fill="#000"/>
<rect x="628" y="127" width="1" height="1" fill="#fff"/>
<rect x="634" y="121" width="1" height="5" fill="#000"/>
<rect x="634" y="128" width="1" height="7" fill="#000"/>
<rect x="633" y="126" width="3" height="2" fill="#000"/>
<rect x="640" y="126" width="1" height="2" fill="#000"/>
<rect x="640" y="136" width="1" height="4" fill="#000"/>
<rect x="639" y="128" width="3" height="8" fill="#000"/>
<rect x="646" y="126" width="1" height="7" fill="#000"/>
<rect x="646" y="136" width="1" height="2" fill="#000"/>
<rect x="645" y="133" width="3" height="3" fill="#000"/>
<rect x="646" y="134" width="1" height="1" fill="#fff"/>
<rect x="652" y="113" width="1" height="18" fill="#000"/>
<rect x="652" y="134" width="1" height="12" fill="#000"/>
<rect x="651" y="131" width="3" height="3" fill="#000"/>
<rect x="652" y="132" width="1" height="1" fill="#fff"/>
<rect x="656" y="131" width="3" height="28" fill="#000"/>
<rect x="663" y="148" width="1" height="10" fill="#000"/>
<rect x="663" y="165" width="1" height="6" fill="#000"/>
<rect x="662" y="158" width="3" height="7" fill="#000"/>
<rect x="669" y="148" width="1" height="2" fill="#000"/>
<rect x="668" y="150" width="3" height="15" fill="#000"/>
<rect x="669" y="151" width="1" height="13" fill="#fff"/>
<rect x="675" y="140" width="1" height="6" fill="#000"/>
<rect x="675" y="151" width="1" height="3" fill="#000"/>
<rect x="674" y="146" width="3" height="5" fill="#000"/>
<rect x="675" y="147" width="1" height="3" fill="#fff"/>
<rect x="681" y="143" width="1" height="3" fill="#000"/>
<rect x="681" y="150" width="1" height="9" fill="#000"/>
<rect x="680" y="146" width="3" height="4" fill="#000"/>
<rect x="686" y="145" width="1" height="4" fill="#000"/>
<rect x="685" y="149" width="3" height="14" fill="#000"/>
<rect x="692" y="141" width="1" height="21" fill="#000"/>
<rect x="691" y="162" width="3" height="2" fill="#000"/>
<rect x="698" y="148" width="1" height="12" fill="#000"/>
<rect x="698" y="164" width="1" height="4" fill="#000"/>
<rect x="697" y="160" width="3" height="4" fill="#000"/>
<rect x="698" y="161" width="1" height="2" fill="#fff"/>
<rect x="704" y="150" width="1" height="9" fill="#000"/>
<rect x="703" y="159" width="3" height="5" fill="#000"/>
<rect x="709" y="195" width="1" height="23" fill="#000"/>
<rect x="708" y="164" width="3" height="31" fill="#000"/>
<rect x="715" y="195" width="1" height="7" fill="#000"/>
<rect x="714" y="173" width="3" height="22" fill="#000"/>
<rect x="715" y="174" width="1" height="20" fill="#fff"/>
<rect x="721" y="180" width="1" height="8" fill="#000"/>
<rect x="720" y="188" width="3" height="24" fill="#000"/>
<rect x="721" y="189" width="1" height="22" fill="#fff"/>
<rect x="727" y="184" width="1" height="4" fill="#000"/>
<rect x="727" y="212" width="1" height="9" fill="#000"/>
<rect x="726" y="188" width="3" height="24" fill="#000"/>
<rect x="733" y="208" width="1" height="4" fill="#000"/>
<rect x="733" y="214" width="1" height="16" fill="#000"/>
<rect x="732" y="212" width="3" height="2" fill="#000"/>
<rect x="738" y="228" width="1" height="9" fill="#000"/>
<rect x="737" y="214" width="3" height="14" fill="#000"/>
<rect x="743" y="228" width="3" height="50" fill="#000"/>
<rect x="750" y="264" width="1" height="13" fill="#000"/>
<rect x="750" y="286" width="1" height="10" fill="#000"/>
<rect x="749" y="277" width="3" height="9" fill="#000"/>
<rect x="756" y="257" width="1" height="15" fill="#000"/>
<rect x="755" y="272" width="3" height="14" fill="#000"/>
<rect x="756" y="273" width="1" height="12" fill="#fff"/>
<rect x="762" y="221" width="1" height="5" fill="#000"/>
<rect x="762" y="273" width="1" height="2" fill="#000"/>
<rect x="761" y="226" width="3" height="47" fill="#000"/>
<rect x="762" y="227" width="1" height="45" fill="#fff"/>
<rect x="767" y="214" width="1" height="12" fill="#000"/>
<rect x="766" y="226" width="3" height="25" fill="#000"/>
<rect x="773" y="234" width="1" height="16" fill="#000"/>
<rect x="772" y="250" width="3" height="21" fill="#000"/>
<rect x="779" y="248" width="1" height="15" fill="#000"/>
<rect x="779" y="271" width="1" height="1" fill="#000"/>
<rect x="778" y="263" width="3" height="8" fill="#000"/>
<rect x="779" y="264" width="1" height="6" fill="#fff"/>
<rect x="785" y="241" width="1" height="17" fill="#000"/>
<rect x="785" y="263" width="1" height="2" fill="#000"/>
<rect x="784" y="258" width="3" height="5" fill="#000"/>
<rect x="785" y="259" width="1" height="3" fill="#fff"/>
<rect x="790" y="234" width="1" height="3" fill="#000"/>
<rect x="789" y="237" width="3" height="22" fill="#000"/>
<rect x="790" y="238" width="1" height="20" fill="#fff"/>
<rect x="796" y="209" width="1" height="13" fill="#000"/>
<rect x="796" y="238" width="1" height="6" fill="#000"/>
<rect x="795" y="222" width="3" height="16" fill="#000"/>
<rect x="796" y="223" width="1" height="14" fill="#fff"/>
<rect x="802" y="214" width="1" height="8" fill="#000"/>
<rect x="801" y="222" width="3" height="24" fill="#000"/>
<rect x="808" y="227" width="1" height="6" fill="#000"/>
<rect x="807" y="233" width="3" height="10" fill="#000"/>
<rect x="814" y="234" width="1" height="4" fill="#000"/>
<rect x="814" y="243" width="1" height="14" fill="#000"/>
<rect x="813" y="238" width="3" height="5" fill="#000"/>
<rect x="814" y="239" width="1" height="3" fill="#fff"/>
<rect x="819" y="234" width="1" height="4" fill="#000"/>
<rect x="819" y="246" width="1" height="10" fill="#000"/>
<rect x="818" y="238" width="3" height="8" fill="#000"/>
<rect x="825" y="242" width="1" height="3" fill="#000"/>
<rect x="825" y="248" width="1" height="7" fill="#000"/>
<rect x="824" y="245" width="3" height="3" fill="#000"/>
<rect x="831" y="236" width="1" height="11" fill="#000"/>
<rect x="830" y="247" width="3" height="5" fill="#000"/>
<rect x="837" y="247" width="1" height="3" fill="#000"/>
<rect x="837" y="251" width="1" height="9" fill="#000"/>
<rect x="836" y="250" width="3" height="1" fill="#000"/>
<rect x="843" y="209" width="1" height="14" fill="#000"/>
<rect x="843" y="251" width="1" height="3" fill="#000"/>
<rect x="842" y="223" width="3" height="28" fill="#000"/>
<rect x="843" y="224" width="1" height="26" fill="#fff"/>
<rect x="848" y="200" width="1" height="4" fill="#000"/>
<rect x="847" y="204" width="3" height="19" fill="#000"/>
<rect x="848" y="205" width="1" height="17" fill="#fff"/>
<rect x="854" y="197" width="1" height="7" fill="#000"/>
<rect x="853" y="204" width="3" height="25" fill="#000"/>
<rect x="860" y="234" width="1" height="5" fill="#000"/>
<rect x="859" y="227" width="3" height="7" fill="#000"/>
<rect x="866" y="231" width="1" height="3" fill="#000"/>
<rect x="865" y="234" width="3" height="22" fill="#000"/>
<rect x="871" y="249" width="1" height="5" fill="#000"/>
<rect x="870" y="254" width="3" height="19" fill="#000"/>
<rect x="877" y="263" width="1" height="9" fill="#000"/>
<rect x="877" y="274" width="1" height="6" fill="#000"/>
<rect x="876" y="272" width="3" height="2" fill="#000"/>
<rect x="883" y="263" width="1" height="11" fill="#000"/>
<rect x="883" y="280" width="1" height="1" fill="#000"/>
<rect x="882" y="274" width="3" height="6" fill="#000"/>
<rect x="889" y="275" width="1" height="4" fill="#000"/>
<rect x="888" y="279" width="3" height="12" fill="#000"/>
<rect x="895" y="264" width="1" height="13" fill="#000"/>
<rect x="894" y="277" width="3" height="14" fill="#000"/>
<rect x="895" y="278" width="1" height="12" fill="#fff"/>
<rect x="900" y="272" width="1" height="5" fill="#000"/>
<rect x="899" y="277" width="3" height="16" fill="#000"/>
<rect x="906" y="274" width="1" height="1" fill="#000"/>
<rect x="906" y="292" width="1" height="4" fill="#000"/>
<rect x="905" y="275" width="3" height="17" fill="#000"/>
<rect x="906" y="276" width="1" height="15" fill="#fff"/>
<rect x="912" y="267" width="1" height="9" fill="#000"/>
<rect x="912" y="293" width="1" height="18" fill="#000"/>
<rect x="911" y="276" width="3" height="17" fill="#000"/>
<rect x="918" y="297" width="1" height="3" fill="#000"/>
<rect x="917" y="292" width="3" height="5" fill="#000"/>
<rect x="924" y="294" width="1" height="3" fill="#000"/>
<rect x="924" y="307" width="1" height="1" fill="#000"/>
<rect x="923" y="297" width="3" height="10" fill="#000"/>
<rect x="929" y="296" width="1" height="7" fill="#000"/>
<rect x="929" y="304" width="1" height="6" fill="#000"/>
<rect x="928" y="303" width="3" height="1" fill="#000"/>
<rect x="935" y="282" width="1" height="4" fill="#000"/>
<rect x="934" y="286" width="3" height="17" fill="#000"/>
<rect x="935" y="287" width="1" height="15" fill="#fff"/>
<rect x="941" y="264" width="1" height="22" fill="#000"/>
<rect x="940" y="286" width="3" height="6" fill="#000"/>
<rect x="947" y="286" width="1" height="5" fill="#000"/>
<rect x="946" y="291" width="3" height="18" fill="#000"/>
<rect x="953" y="296" width="1" height="12" fill="#000"/>
<rect x="953" y="324" width="1" height="2" fill="#000"/>
<rect x="952" y="308" width="3" height="16" fill="#000"/>
<rect x="958" y="316" width="1" height="7" fill="#000"/>
<rect x="957" y="323" width="3" height="21" fill="#000"/>
<rect x="964" y="339" width="1" height="4" fill="#000"/>
<rect x="964" y="365" width="1" height="11" fill="#000"/>
<rect x="963" y="343" width="3" height="22" fill="#000"/>
<rect x="970" y="363" width="1" height="2" fill="#000"/>
<rect x="970" y="381" width="1" height="7" fill="#000"/>
<rect x="969" y="365" width="3" height="16" fill="#000"/>
<rect x="976" y="355" width="1" height="13" fill="#000"/>
<rect x="975" y="368" width="3" height="13" fill="#000"/>
<rect x="976" y="369" width="1" height="11" fill="#fff"/>
<rect x="980" y="355" width="3" height="27" fill="#000"/>
<rect x="987" y="359" width="1" height="17" fill="#000"/>
<rect x="987" y="380" width="1" height="2" fill="#000"/>
<rect x="986" y="376" width="3" height="4" fill="#000"/>
<rect x="987" y="377" width="1" height="2" fill="#fff"/>
<rect x="993" y="345" width="1" height="1" fill="#000"/>
<rect x="993" y="376" width="1" height="2" fill="#000"/>
<rect x="992" y="346" width="3" height="30" fill="#000"/>
<rect x="993" y="347" width="1" height="28" fill="#fff"/>
<rect x="999" y="341" width="1" height="6" fill="#000"/>
<rect x="999" y="369" width="1" height="13" fill="#000"/>
<rect x="998" y="347" width="3" height="22" fill="#000"/>
<rect x="1005" y="354" width="1" height="14" fill="#000"/>
<rect x="1005" y="369" width="1" height="16" fill="#000"/>
<rect x="1004" y="368" width="3" height="1" fill="#000"/>
<rect x="1010" y="355" width="1" height="9" fill="#000"/>
<rect x="1010" y="368" width="1" height="13" fill="#000"/>
<rect x="1009" y="364" width="3" height="4" fill="#000"/>
<rect x="1010" y="365" width="1" height="2" fill="#fff"/>
<rect x="1016" y="357" width="1" height="7" fill="#000"/>
<rect x="1015" y="364" width="3" height="8" fill="#000"/>
<rect x="1022" y="359" width="1" height="13" fill="#000"/>
<rect x="1021" y="372" width="3" height="7" fill="#000"/>
<rect x="1028" y="372" width="1" height="5" fill="#000"/>
<rect x="1028" y="413" width="1" height="5" fill="#000"/>
<rect x="1027" y="377" width="3" height="36" fill="#000"/>
<rect x="1034" y="402" width="1" height="2" fill="#000"/>
<rect x="1034" y="413" width="1" height="7" fill="#000"/>
<rect x="1033" y="404" width="3" height="9" fill="#000"/>
<rect x="1034" y="405" width="1" height="7" fill="#fff"/>
<rect x="1039" y="396" width="1" height="2" fill="#000"/>
<rect x="1039" y="404" width="1" height="6" fill="#000"/>
<rect x="1038" y="398" width="3" height="6" fill="#000"/>
<rect x="1039" y="399" width="1" height="4" fill="#fff"/>
<rect x="1045" y="365" width="1" height="2" fill="#000"/>
<rect x="1044" y="367" width="3" height="31" fill="#000"/>
<rect x="1045" y="368" width="1" height="29" fill="#fff"/>
<rect x="1051" y="364" width="1" height="3" fill="#000"/>
<rect x="1050" y="367" width="3" height="23" fill="#000"/>
<rect x="1057" y="351" width="1" height="5" fill="#000"/>
<rect x="1056" y="356" width="3" height="34" fill="#000"/>
<rect x="1057" y="357" width="1" height="32" fill="#fff"/>
<rect x="1062" y="354" width="1" height="2" fill="#000"/>
<rect x="1062" y="363" width="1" height="7" fill="#000"/>
<rect x="1061" y="356" width="3" height="7" fill="#000"/>
<rect x="1068" y="328" width="1" height="1" fill="#000"/>
<rect x="1067" y="329" width="3" height="34" fill="#000"/>
<rect x="1068" y="330" width="1" height="32" fill="#fff"/>
<rect x="1074" y="313" width="1" height="4" fill="#000"/>
<rect x="1074" y="329" width="1" height="7" fill="#000"/>
<rect x="1073" y="317" width="3" height="12" fill="#000"/>
<rect x="1074" y="318" width="1" height="10" fill="#fff"/>
<rect x="1080" y="333" width="1" height="8" fill="#000"/>
<rect x="1079" y="317" width="3" height="16" fill="#000"/>
<rect x="1086" y="318" width="1" height="1" fill="#000"/>
<rect x="1086" y="333" width="1" height="3" fill="#000"/>
<rect x="1085" y="319" width="3" height="14" fill="#000"/>
<rect x="1086" y="320" width="1" height="12" fill="#fff"/>
<rect x="1091" y="309" width="1" height="8" fill="#000"/>
<rect x="1091" y="320" width="1" height="6" fill="#000"/>
<rect x="1090" y="317" width="3" height="3" fill="#000"/>
<rect x="1091" y="318" width="1" height="1" fill="#fff"/>
<rect x="1097" y="308" width="1" height="4" fill="#000"/>
<rect x="1097" y="318" width="1" height="1" fill="#000"/>
<rect x="1096" y="312" width="3" height="6" fill="#000"/>
<rect x="1097" y="313" width="1" height="4" fill="#fff"/>
</g>
</g>
<rect x="10" y="21" width="1" height="7" fill="#8a8c93"/>
<g clip-path="url(#cr)">
<g shape-rendering="crispEdges">
<line x1="10" y1="452.5" x2="1376" y2="452.5" stroke="#787b86" stroke-width="1" stroke-dasharray="5 6"/>
<line x1="10" y1="509.5" x2="1376" y2="509.5" stroke="#b4b3c6" stroke-width="1" stroke-dasharray="5 6"/>
<line x1="10" y1="565.5" x2="1376" y2="565.5" stroke="#787b86" stroke-width="1" stroke-dasharray="5 6"/>
</g>
<polyline points="9.50,501.35 15.50,498.39 21.50,497.34 26.50,496.99 32.50,496.99 38.50,496.12 44.50,497.52 50.50,501.52 55.50,504.83 61.50,509.36 67.50,514.93 73.50,518.76 79.50,521.90 84.50,525.29 90.50,528.47 96.50,533.48 102.50,538.37 108.50,542.57 113.50,545.41 119.50,549.17 125.50,552.29 131.50,554.04 136.50,554.86 142.50,556.17 148.50,556.85 154.50,557.34 160.50,557.09 165.50,556.22 171.50,554.66 177.50,550.65 183.50,545.76 189.50,542.34 194.50,539.38 200.50,536.99 206.50,534.19 212.50,531.08 217.50,526.46 223.50,524.35 229.50,520.80 235.50,520.06 241.50,518.69 246.50,518.65 252.50,518.56 258.50,518.88 264.50,519.56 270.50,521.51 275.50,524.52 281.50,526.26 287.50,528.84 293.50,532.22 299.50,538.07 304.50,539.50 310.50,543.11 316.50,546.67 322.50,550.71 327.50,554.10 333.50,557.58 339.50,558.79 345.50,560.54 351.50,559.20 356.50,557.71 362.50,556.80 368.50,554.40 374.50,551.85 380.50,549.46 385.50,546.89 391.50,544.15 397.50,540.42 403.50,537.50 408.50,534.55 414.50,531.14 420.50,529.52 426.50,529.19 432.50,528.94 437.50,528.22 443.50,526.39 449.50,524.82 455.50,523.02 461.50,520.80 466.50,520.68 472.50,518.73 478.50,517.86 484.50,515.34 490.50,514.12 495.50,513.81 501.50,513.75 507.50,512.43 513.50,510.59 518.50,509.72 524.50,508.81 530.50,506.60 536.50,504.02 542.50,502.63 547.50,501.01 553.50,502.03 559.50,502.16 565.50,504.02 571.50,503.13 576.50,502.59 582.50,503.30 588.50,504.77 594.50,508.87 599.50,512.15 605.50,514.26 611.50,517.02 617.50,519.37 623.50,518.73 628.50,517.69 634.50,515.17 640.50,513.49 646.50,511.09 652.50,509.60 657.50,509.57 663.50,509.35 669.50,506.98 675.50,503.15 681.50,499.61 686.50,498.98 692.50,499.15 698.50,499.56 704.50,502.44 709.50,507.39 715.50,510.38 721.50,513.73 727.50,518.29 733.50,523.02 738.50,526.40 744.50,530.89 750.50,536.55 756.50,541.44 762.50,543.16 767.50,544.84 773.50,547.04 779.50,549.24 785.50,550.67 790.50,549.02 796.50,548.37 802.50,547.85 808.50,546.02 814.50,543.93 819.50,541.48 825.50,537.65 831.50,533.83 837.50,530.97 843.50,529.31 848.50,525.70 854.50,522.91 860.50,520.74 866.50,519.87 871.50,520.99 877.50,522.98 883.50,524.16 889.50,525.99 895.50,527.09 900.50,528.54 906.50,528.70 912.50,529.45 918.50,530.44 924.50,533.52 929.50,537.53 935.50,538.78 941.50,539.99 947.50,541.04 953.50,542.04 958.50,543.66 964.50,545.83 970.50,547.96 976.50,550.07 981.50,551.88 987.50,554.39 993.50,554.19 999.50,554.63 1005.50,554.66 1010.50,554.53 1016.50,556.08 1022.50,557.58 1028.50,559.57 1034.50,560.15 1039.50,559.50 1045.50,556.00 1051.50,553.07 1057.50,549.24 1062.50,545.36 1068.50,540.38 1074.50,536.88 1080.50,533.27 1086.50,529.19 1091.50,525.31 1097.50,520.83" fill="none" stroke="#f0d63a" stroke-width="1.8" stroke-linejoin="round"/>
<polyline points="9.50,503.09 15.50,500.48 21.50,506.57 26.50,507.44 32.50,511.45 38.50,504.48 44.50,524.34 50.50,544.36 55.50,544.36 61.50,544.02 67.50,557.08 73.50,527.99 79.50,536.18 84.50,542.27 90.50,547.50 96.50,570.66 102.50,575.02 108.50,566.31 113.50,551.16 119.50,557.08 125.50,568.05 131.50,568.92 136.50,555.86 142.50,562.30 148.50,566.66 154.50,534.79 160.50,532.70 165.50,530.08 171.50,525.73 177.50,514.41 183.50,506.57 189.50,518.42 194.50,509.71 200.50,523.64 206.50,528.86 212.50,525.38 217.50,491.25 223.50,532.70 229.50,517.02 235.50,524.34 241.50,513.54 246.50,529.56 252.50,524.51 258.50,518.76 264.50,516.15 270.50,545.76 275.50,551.85 281.50,548.02 287.50,564.91 293.50,572.75 299.50,573.10 304.50,552.72 310.50,567.53 316.50,574.14 322.50,570.14 327.50,577.11 333.50,573.10 339.50,535.83 345.50,540.53 351.50,527.12 356.50,530.95 362.50,535.31 368.50,531.30 374.50,537.05 380.50,539.66 385.50,516.67 391.50,529.21 397.50,521.90 403.50,529.21 408.50,535.83 414.50,525.38 420.50,513.19 426.50,535.83 432.50,523.64 437.50,520.85 443.50,509.71 449.50,509.36 455.50,511.80 461.50,508.66 466.50,514.93 472.50,501.87 478.50,509.71 484.50,494.03 490.50,518.76 495.50,521.03 501.50,512.32 507.50,517.37 513.50,497.86 518.50,508.66 524.50,496.99 530.50,478.36 536.50,475.75 542.50,489.16 547.50,492.29 553.50,516.15 559.50,511.45 565.50,520.16 571.50,506.22 576.50,513.54 582.50,522.25 588.50,537.92 594.50,555.34 599.50,554.47 605.50,526.60 611.50,517.02 617.50,508.66 623.50,480.10 628.50,477.84 634.50,480.80 640.50,487.94 646.50,486.54 652.50,485.33 657.50,513.19 663.50,519.11 669.50,504.83 675.50,501.70 681.50,504.83 686.50,517.89 692.50,519.29 698.50,514.41 704.50,520.51 709.50,547.15 715.50,522.59 721.50,534.79 727.50,550.46 733.50,551.50 738.50,560.56 744.50,581.98 750.50,584.07 756.50,570.14 762.50,528.86 767.50,541.40 773.50,550.11 779.50,545.24 785.50,540.53 790.50,523.99 796.50,513.54 802.50,527.47 808.50,524.86 814.50,522.25 819.50,526.25 825.50,528.34 831.50,530.61 837.50,530.08 843.50,505.70 848.50,490.90 854.50,510.93 860.50,514.93 866.50,528.34 871.50,539.66 877.50,541.40 883.50,544.02 889.50,550.46 895.50,537.57 900.50,546.63 906.50,530.61 912.50,541.06 918.50,544.02 924.50,548.72 929.50,547.15 935.50,528.34 941.50,531.83 947.50,543.15 953.50,553.59 958.50,564.04 964.50,574.49 970.50,580.24 976.50,567.18 981.50,571.88 987.50,565.79 993.50,538.27 999.50,550.11 1005.50,549.24 1010.50,545.24 1016.50,550.11 1022.50,552.72 1028.50,571.01 1034.50,561.78 1039.50,554.99 1045.50,525.38 1051.50,539.31 1057.50,513.54 1062.50,517.54 1068.50,496.12 1074.50,489.16 1080.50,499.61 1086.50,492.12 1091.50,490.90 1097.50,487.42" fill="none" stroke="#7e57c2" stroke-width="1.8" stroke-linejoin="round"/>
</g>
<text x="22.6" y="474.2" font-size="17.5" fill="#4a4d58" textLength="209.3" lengthAdjust="spacingAndGlyphs">RSI (14, close, SMA, 14, 2)</text>
<text x="244.3" y="474.2" font-size="17.5" fill="#7e57c2" textLength="43.8" lengthAdjust="spacingAndGlyphs">57.43</text>
<text x="299.2" y="474.2" font-size="17.5" fill="#f0d63a" textLength="44.5" lengthAdjust="spacingAndGlyphs">45.65</text>
<text x="354.4" y="474.2" font-size="17.5" fill="#4a4d58" textLength="28.7" lengthAdjust="spacingAndGlyphs">n/a</text>
<text x="394.2" y="474.2" font-size="17.5" fill="#4a4d58" textLength="28" lengthAdjust="spacingAndGlyphs">n/a</text>
<rect x="1377" y="2" width="91" height="633" fill="#ffffff"/>
<rect x="1376" y="2" width="1" height="633" fill="#50535e"/>
<rect x="11" y="594" width="1457" height="1" fill="#50535e"/>
<rect x="1377" y="444" width="91" height="1" fill="#e0e3eb"/>
<g clip-path="url(#c118)"><text x="1391" y="37.7" font-size="16" fill="#e0e2e7" textLength="56.6" lengthAdjust="spacingAndGlyphs">1.18000</text></g>
<defs><clipPath id="c118"><rect x="1377" y="31.5" width="90" height="10"/></clipPath></defs>
<text x="1389.4" y="25.8" font-size="16" fill="#4a4d58" textLength="28.7" lengthAdjust="spacingAndGlyphs">USD</text>
<text x="1391.2" y="90.7" font-size="16" fill="#4a4d58" textLength="56.6" lengthAdjust="spacingAndGlyphs">1.16000</text>
<text x="1391.2" y="144.7" font-size="16" fill="#4a4d58" textLength="56.6" lengthAdjust="spacingAndGlyphs">1.14000</text>
<text x="1391.2" y="198.7" font-size="16" fill="#4a4d58" textLength="56.6" lengthAdjust="spacingAndGlyphs">1.12000</text>
<text x="1391.2" y="251.7" font-size="16" fill="#4a4d58" textLength="56.6" lengthAdjust="spacingAndGlyphs">1.10000</text>
<text x="1391.2" y="412.7" font-size="16" fill="#4a4d58" textLength="56.6" lengthAdjust="spacingAndGlyphs">1.04000</text>
<path d="M1376,252 H1454 Q1457,252 1457,255 V271.7 Q1457,274.7 1454,274.7 H1376 Z" fill="#4caf50"/>
<text x="1391.8" y="269.6" font-size="16" fill="#ffffff" textLength="57" lengthAdjust="spacingAndGlyphs" stroke="#ffffff" stroke-width="0.55">1.09379</text>
<path d="M1376,278.1 H1454 Q1457,278.1 1457,281.1 V297.7 Q1457,300.7 1454,300.7 H1376 Z" fill="#4caf50"/>
<text x="1391.8" y="295.2" font-size="16" fill="#ffffff" textLength="57" lengthAdjust="spacingAndGlyphs" stroke="#ffffff" stroke-width="0.55">1.07580</text>
<rect x="1376" y="301.5" width="81" height="42" fill="#ffffff"/>
<text x="1392.4" y="318.7" font-size="16" fill="#131722" textLength="55.6" lengthAdjust="spacingAndGlyphs">1.07539</text>
<text x="1392.4" y="337.3" font-size="16" fill="#50535e" textLength="62.4" lengthAdjust="spacingAndGlyphs">13:26:04</text>
<path d="M1376,344.5 H1454 Q1457,344.5 1457,347.5 V363.4 Q1457,366.4 1454,366.4 H1376 Z" fill="#2962ff"/>
<text x="1391.8" y="361.4" font-size="16" fill="#ffffff" textLength="57" lengthAdjust="spacingAndGlyphs" stroke="#ffffff" stroke-width="0.55">1.06449</text>
<path d="M1376,375.4 H1454 Q1457,375.4 1457,378.4 V394.6 Q1457,397.6 1454,397.6 H1376 Z" fill="#2962ff"/>
<text x="1391.8" y="392.6" font-size="16" fill="#ffffff" textLength="57" lengthAdjust="spacingAndGlyphs" stroke="#ffffff" stroke-width="0.55">1.04769</text>
<path d="M1376,410.1 H1454 Q1457,410.1 1457,413.1 V429.7 Q1457,432.7 1454,432.7 H1376 Z" fill="#2962ff"/>
<text x="1391.8" y="427.3" font-size="16" fill="#ffffff" textLength="57" lengthAdjust="spacingAndGlyphs" stroke="#ffffff" stroke-width="0.55">1.03475</text>
<g clip-path="url(#c3047)">
<path d="M1376,433.5 H1454 Q1457,433.5 1457,436.5 V453 Q1457,456 1454,456 H1376 Z" fill="#2962ff"/>
<text x="1391.8" y="450.4" font-size="16" fill="#ffffff" textLength="57" lengthAdjust="spacingAndGlyphs" stroke="#ffffff" stroke-width="0.55">1.03047</text>
</g><defs><clipPath id="c3047"><rect x="1376" y="433" width="92" height="11"/></clipPath></defs>
<rect x="1302" y="301" width="74" height="23" fill="#ffffff"/>
<text x="1310.7" y="318.7" font-size="16" fill="#131722" textLength="57.4" lengthAdjust="spacingAndGlyphs">EURUSD</text>
<text x="1390.3" y="486.8" font-size="16" fill="#4a4d58" textLength="40" lengthAdjust="spacingAndGlyphs">60.00</text>
<text x="1390.3" y="542.9" font-size="16" fill="#4a4d58" textLength="40" lengthAdjust="spacingAndGlyphs">40.00</text>
<text x="95.45" y="619.5" font-size="16" fill="#4a4d58" textLength="25.5" lengthAdjust="spacingAndGlyphs">Oct</text>
<text x="215.1" y="619.5" font-size="16" fill="#4a4d58" textLength="28.2" lengthAdjust="spacingAndGlyphs">Nov</text>
<text x="342.6" y="619.5" font-size="16" fill="#4a4d58" textLength="27.4" lengthAdjust="spacingAndGlyphs">Dec</text>
<text x="598.05" y="619.5" font-size="16" fill="#4a4d58" textLength="26.3" lengthAdjust="spacingAndGlyphs">Feb</text>
<text x="713.2" y="619.5" font-size="16" fill="#4a4d58" textLength="28" lengthAdjust="spacingAndGlyphs">Mar</text>
<text x="847.2" y="619.5" font-size="16" fill="#4a4d58" textLength="26" lengthAdjust="spacingAndGlyphs">Apr</text>
<text x="966.2" y="619.5" font-size="16" fill="#4a4d58" textLength="30" lengthAdjust="spacingAndGlyphs">May</text>
<text x="1096.7" y="619.5" font-size="16" fill="#4a4d58" textLength="25" lengthAdjust="spacingAndGlyphs">Jun</text>
<text x="1225.7" y="619.5" font-size="16" fill="#4a4d58" textLength="21" lengthAdjust="spacingAndGlyphs">Jul</text>
<text x="1343.75" y="619.5" font-size="16" fill="#4a4d58" textLength="27.5" lengthAdjust="spacingAndGlyphs">Aug</text>
<text x="471.7" y="619.5" font-size="16" fill="#3d404b" textLength="36.6" lengthAdjust="spacingAndGlyphs" stroke="#3d404b" stroke-width="0.6">2022</text>
<path d="M9.9,654.2 H22.3 V668.7 H15.2 V659.6 H9.9 Z" fill="#131722"/>
<circle cx="26.6" cy="657.1" r="2.8" fill="#131722"/>
<path d="M32,654.2 H39.3 L34.1,668.7 H27.1 Z" fill="#131722"/>
<text x="44.9" y="669.6" font-size="19.6" fill="#131722" textLength="105.1" lengthAdjust="spacingAndGlyphs">TradingView</text>
</svg>
</body></html>
